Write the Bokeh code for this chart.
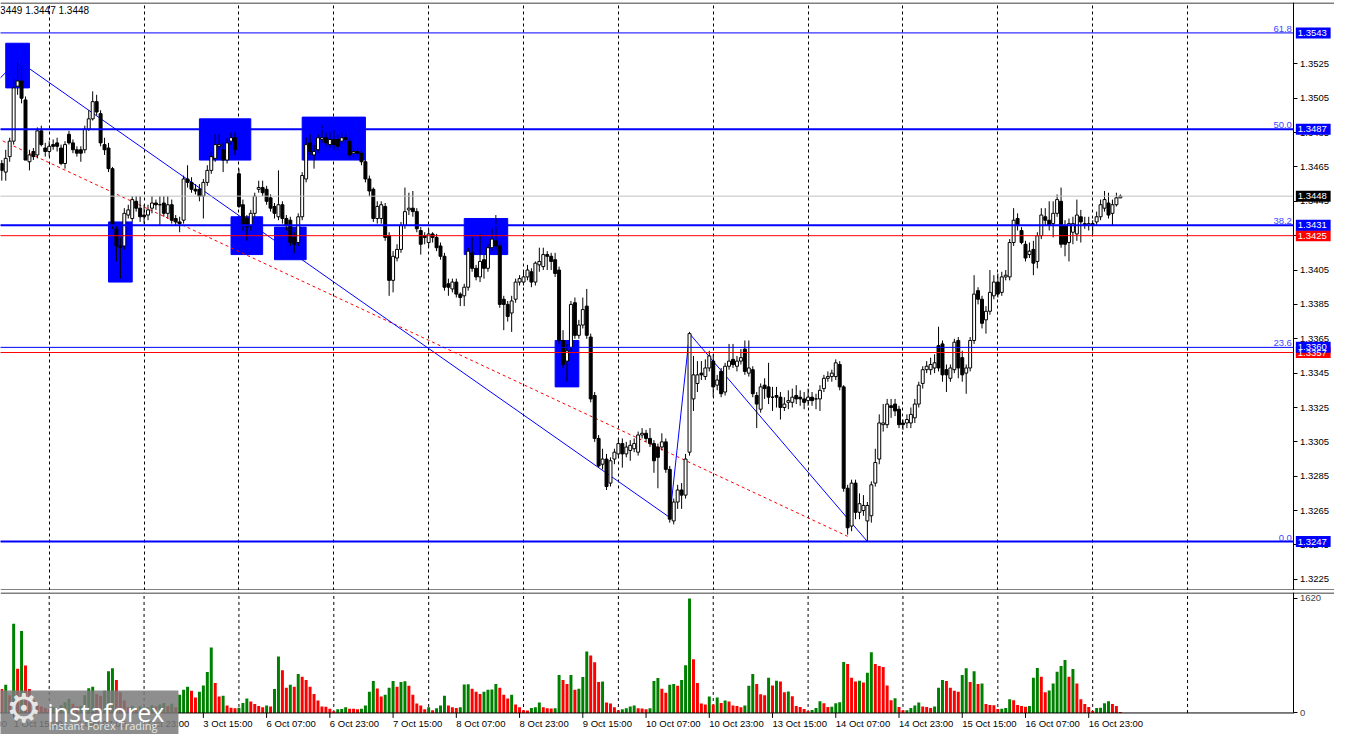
import numpy as np
from bokeh.plotting import figure
from bokeh.models import (Range1d, FixedTicker, PrintfTickFormatter, Span, LinearAxis,
                          Grid, ColumnDataSource)
from bokeh.layouts import column
from bokeh.embed import file_html
from bokeh.resources import INLINE
from bokeh.core.properties import value

# ---------------- data (H1 bars, bar 0 = 2 Oct 00:00) ----------------
FIRST_BAR = -12

open_ = [
    1.3467, 1.3462, 1.3471, 1.3480, 1.3512, 1.3515, 1.3504, 1.3468, 1.3474, 1.3472, 1.3486, 1.3476,
    1.3474, 1.3478, 1.3479, 1.3476, 1.3467, 1.3484, 1.3479, 1.3475, 1.3475, 1.3475, 1.3487, 1.3493,
    1.3503, 1.3496, 1.3478, 1.3476, 1.3464, 1.3429, 1.3419, 1.3419, 1.3437, 1.3435, 1.3445, 1.3441,
    1.3437, 1.3437, 1.3441, 1.3444, 1.3443, 1.3444, 1.3438, 1.3443, 1.3435, 1.3433, 1.3434, 1.3458,
    1.3456, 1.3452, 1.3452, 1.3448, 1.3456, 1.3463, 1.3470, 1.3477, 1.3475, 1.3469, 1.3480, 1.3482,
    1.3461, 1.3443, 1.3435, 1.3431, 1.3438, 1.3452, 1.3453, 1.3452, 1.3447, 1.3442, 1.3436, 1.3443,
    1.3435, 1.3434, 1.3424, 1.3421, 1.3436, 1.3458, 1.3479, 1.3472, 1.3475, 1.3481, 1.3482, 1.3478,
    1.3481, 1.3481, 1.3480, 1.3482, 1.3480, 1.3473, 1.3474, 1.3473, 1.3468, 1.3458, 1.3452, 1.3435,
    1.3435, 1.3442, 1.3425, 1.3399, 1.3412, 1.3417, 1.3431, 1.3440, 1.3441, 1.3439, 1.3428, 1.3425,
    1.3421, 1.3426, 1.3424, 1.3419, 1.3413, 1.3397, 1.3394, 1.3398, 1.3391, 1.3390, 1.3395, 1.3415,
    1.3406, 1.3401, 1.3411, 1.3406, 1.3418, 1.3422, 1.3419, 1.3388, 1.3385, 1.3380, 1.3388, 1.3398,
    1.3398, 1.3401, 1.3404, 1.3398, 1.3408, 1.3407, 1.3414, 1.3413, 1.3411, 1.3405, 1.3364, 1.3352,
    1.3360, 1.3386, 1.3367, 1.3373, 1.3384, 1.3366, 1.3332, 1.3307, 1.3292, 1.3295, 1.3281, 1.3295,
    1.3298, 1.3304, 1.3298, 1.3300, 1.3301, 1.3299, 1.3309, 1.3310, 1.3307, 1.3304, 1.3302, 1.3302,
    1.3305, 1.3289, 1.3259, 1.3270, 1.3277, 1.3274, 1.3299, 1.3330, 1.3339, 1.3345, 1.3343, 1.3348,
    1.3352, 1.3338, 1.3346, 1.3334, 1.3349, 1.3353, 1.3349, 1.3352, 1.3359, 1.3345, 1.3347, 1.3332,
    1.3324, 1.3338, 1.3337, 1.3331, 1.3332, 1.3331, 1.3325, 1.3328, 1.3328, 1.3332, 1.3331, 1.3330,
    1.3329, 1.3331, 1.3330, 1.3330, 1.3336, 1.3342, 1.3343, 1.3343, 1.3350, 1.3337, 1.3278, 1.3256,
    1.3281, 1.3264, 1.3265, 1.3259, 1.3262, 1.3281, 1.3295, 1.3315, 1.3315, 1.3326, 1.3327, 1.3324,
    1.3316, 1.3316, 1.3316, 1.3319, 1.3327, 1.3339, 1.3347, 1.3347, 1.3348, 1.3361, 1.3362, 1.3347,
    1.3342, 1.3347, 1.3364, 1.3354, 1.3345, 1.3348, 1.3364, 1.3393, 1.3388, 1.3376, 1.3381, 1.3390,
    1.3398, 1.3392, 1.3401, 1.3401, 1.3421, 1.3435, 1.3428, 1.3420, 1.3414, 1.3417, 1.3410, 1.3425,
    1.3436, 1.3434, 1.3432, 1.3438, 1.3445, 1.3431, 1.3421, 1.3427, 1.3426, 1.3436, 1.3432, 1.3431,
    1.3432, 1.3433, 1.3436, 1.3441, 1.3444, 1.3438, 1.3443, 1.3447,
]
high = [
    1.3469, 1.3475, 1.3482, 1.3516, 1.3526, 1.3523, 1.3506, 1.3475, 1.3476, 1.3488, 1.3489, 1.3479,
    1.3480, 1.3481, 1.3482, 1.3478, 1.3480, 1.3486, 1.3481, 1.3477, 1.3477, 1.3489, 1.3498, 1.3509,
    1.3507, 1.3498, 1.3482, 1.3479, 1.3465, 1.3431, 1.3424, 1.3441, 1.3443, 1.3448, 1.3448, 1.3448,
    1.3443, 1.3443, 1.3448, 1.3446, 1.3448, 1.3448, 1.3448, 1.3446, 1.3437, 1.3436, 1.3460, 1.3466,
    1.3459, 1.3455, 1.3455, 1.3458, 1.3466, 1.3474, 1.3484, 1.3484, 1.3479, 1.3482, 1.3485, 1.3485,
    1.3464, 1.3446, 1.3437, 1.3440, 1.3450, 1.3457, 1.3457, 1.3454, 1.3449, 1.3444, 1.3463, 1.3445,
    1.3437, 1.3436, 1.3427, 1.3438, 1.3462, 1.3482, 1.3484, 1.3478, 1.3484, 1.3489, 1.3485, 1.3485,
    1.3487, 1.3484, 1.3485, 1.3484, 1.3482, 1.3476, 1.3476, 1.3475, 1.3469, 1.3460, 1.3453, 1.3445,
    1.3445, 1.3444, 1.3427, 1.3416, 1.3420, 1.3433, 1.3453, 1.3450, 1.3451, 1.3441, 1.3430, 1.3427,
    1.3429, 1.3427, 1.3426, 1.3421, 1.3415, 1.3400, 1.3400, 1.3400, 1.3392, 1.3397, 1.3418, 1.3424,
    1.3408, 1.3426, 1.3414, 1.3420, 1.3429, 1.3437, 1.3421, 1.3390, 1.3387, 1.3390, 1.3400, 1.3402,
    1.3405, 1.3408, 1.3406, 1.3410, 1.3418, 1.3418, 1.3416, 1.3415, 1.3415, 1.3407, 1.3370, 1.3362,
    1.3387, 1.3389, 1.3376, 1.3389, 1.3394, 1.3368, 1.3334, 1.3309, 1.3301, 1.3298, 1.3296, 1.3301,
    1.3307, 1.3307, 1.3305, 1.3306, 1.3307, 1.3311, 1.3313, 1.3312, 1.3313, 1.3306, 1.3304, 1.3310,
    1.3307, 1.3291, 1.3272, 1.3280, 1.3281, 1.3298, 1.3369, 1.3355, 1.3352, 1.3352, 1.3353, 1.3358,
    1.3356, 1.3344, 1.3348, 1.3351, 1.3362, 1.3362, 1.3355, 1.3359, 1.3364, 1.3364, 1.3349, 1.3334,
    1.3339, 1.3342, 1.3351, 1.3337, 1.3337, 1.3334, 1.3331, 1.3335, 1.3336, 1.3338, 1.3335, 1.3334,
    1.3336, 1.3334, 1.3333, 1.3338, 1.3344, 1.3346, 1.3347, 1.3353, 1.3352, 1.3338, 1.3280, 1.3283,
    1.3283, 1.3275, 1.3274, 1.3270, 1.3282, 1.3301, 1.3321, 1.3327, 1.3330, 1.3330, 1.3330, 1.3326,
    1.3318, 1.3321, 1.3325, 1.3330, 1.3340, 1.3349, 1.3352, 1.3354, 1.3356, 1.3372, 1.3364, 1.3350,
    1.3350, 1.3365, 1.3366, 1.3358, 1.3350, 1.3366, 1.3402, 1.3395, 1.3390, 1.3384, 1.3405, 1.3402,
    1.3403, 1.3404, 1.3405, 1.3423, 1.3441, 1.3438, 1.3430, 1.3422, 1.3421, 1.3422, 1.3427, 1.3441,
    1.3441, 1.3445, 1.3445, 1.3449, 1.3453, 1.3434, 1.3435, 1.3436, 1.3446, 1.3440, 1.3436, 1.3436,
    1.3434, 1.3439, 1.3446, 1.3451, 1.3450, 1.3446, 1.3450, 1.3449,
]
low = [
    1.3457, 1.3457, 1.3468, 1.3478, 1.3507, 1.3502, 1.3469, 1.3463, 1.3469, 1.3470, 1.3477, 1.3471,
    1.3471, 1.3475, 1.3474, 1.3466, 1.3464, 1.3478, 1.3473, 1.3471, 1.3468, 1.3473, 1.3486, 1.3492,
    1.3495, 1.3477, 1.3472, 1.3462, 1.3429, 1.3410, 1.3400, 1.3417, 1.3435, 1.3433, 1.3439, 1.3433,
    1.3432, 1.3434, 1.3438, 1.3440, 1.3431, 1.3436, 1.3435, 1.3432, 1.3431, 1.3427, 1.3432, 1.3453,
    1.3450, 1.3449, 1.3445, 1.3435, 1.3454, 1.3461, 1.3468, 1.3475, 1.3462, 1.3467, 1.3478, 1.3472,
    1.3441, 1.3428, 1.3422, 1.3428, 1.3436, 1.3450, 1.3448, 1.3443, 1.3439, 1.3435, 1.3434, 1.3432,
    1.3428, 1.3419, 1.3415, 1.3419, 1.3434, 1.3456, 1.3472, 1.3464, 1.3473, 1.3479, 1.3477, 1.3476,
    1.3475, 1.3475, 1.3478, 1.3479, 1.3470, 1.3470, 1.3471, 1.3466, 1.3456, 1.3448, 1.3433, 1.3432,
    1.3432, 1.3422, 1.3390, 1.3392, 1.3410, 1.3415, 1.3429, 1.3437, 1.3436, 1.3427, 1.3414, 1.3420,
    1.3418, 1.3421, 1.3416, 1.3411, 1.3393, 1.3390, 1.3392, 1.3389, 1.3384, 1.3384, 1.3393, 1.3404,
    1.3399, 1.3398, 1.3400, 1.3404, 1.3416, 1.3417, 1.3383, 1.3370, 1.3375, 1.3369, 1.3386, 1.3396,
    1.3396, 1.3399, 1.3395, 1.3396, 1.3404, 1.3405, 1.3405, 1.3405, 1.3401, 1.3362, 1.3348, 1.3340,
    1.3358, 1.3365, 1.3365, 1.3371, 1.3365, 1.3328, 1.3305, 1.3290, 1.3289, 1.3277, 1.3279, 1.3292,
    1.3296, 1.3290, 1.3296, 1.3294, 1.3299, 1.3297, 1.3307, 1.3305, 1.3302, 1.3287, 1.3278, 1.3300,
    1.3287, 1.3258, 1.3257, 1.3266, 1.3266, 1.3272, 1.3297, 1.3323, 1.3334, 1.3341, 1.3341, 1.3346,
    1.3331, 1.3335, 1.3331, 1.3332, 1.3347, 1.3348, 1.3346, 1.3350, 1.3344, 1.3343, 1.3331, 1.3313,
    1.3322, 1.3330, 1.3327, 1.3323, 1.3325, 1.3318, 1.3323, 1.3324, 1.3325, 1.3327, 1.3326, 1.3324,
    1.3326, 1.3326, 1.3324, 1.3323, 1.3334, 1.3340, 1.3340, 1.3341, 1.3335, 1.3276, 1.3251, 1.3253,
    1.3260, 1.3260, 1.3262, 1.3247, 1.3258, 1.3279, 1.3292, 1.3311, 1.3313, 1.3319, 1.3320, 1.3313,
    1.3312, 1.3313, 1.3313, 1.3316, 1.3325, 1.3336, 1.3345, 1.3344, 1.3345, 1.3346, 1.3340, 1.3334,
    1.3340, 1.3345, 1.3342, 1.3340, 1.3333, 1.3346, 1.3362, 1.3385, 1.3371, 1.3368, 1.3379, 1.3388,
    1.3389, 1.3390, 1.3399, 1.3399, 1.3419, 1.3428, 1.3420, 1.3410, 1.3412, 1.3402, 1.3406, 1.3423,
    1.3431, 1.3428, 1.3424, 1.3436, 1.3418, 1.3413, 1.3410, 1.3420, 1.3422, 1.3421, 1.3429, 1.3428,
    1.3426, 1.3431, 1.3434, 1.3439, 1.3435, 1.3431, 1.3442, 1.3447,
]
close = [
    1.3463, 1.3470, 1.3480, 1.3511, 1.3515, 1.3505, 1.3469, 1.3472, 1.3471, 1.3486, 1.3478, 1.3474,
    1.3477, 1.3477, 1.3477, 1.3467, 1.3478, 1.3479, 1.3475, 1.3473, 1.3473, 1.3487, 1.3493, 1.3503,
    1.3497, 1.3479, 1.3475, 1.3464, 1.3431, 1.3419, 1.3418, 1.3438, 1.3440, 1.3446, 1.3441, 1.3436,
    1.3436, 1.3440, 1.3444, 1.3443, 1.3443, 1.3438, 1.3443, 1.3434, 1.3433, 1.3432, 1.3458, 1.3456,
    1.3452, 1.3451, 1.3448, 1.3456, 1.3463, 1.3471, 1.3478, 1.3478, 1.3469, 1.3479, 1.3482, 1.3475,
    1.3442, 1.3431, 1.3430, 1.3438, 1.3448, 1.3453, 1.3450, 1.3445, 1.3441, 1.3438, 1.3443, 1.3435,
    1.3431, 1.3421, 1.3420, 1.3436, 1.3460, 1.3478, 1.3474, 1.3474, 1.3482, 1.3482, 1.3479, 1.3481,
    1.3478, 1.3477, 1.3482, 1.3481, 1.3472, 1.3474, 1.3473, 1.3468, 1.3458, 1.3451, 1.3435, 1.3442,
    1.3443, 1.3424, 1.3399, 1.3413, 1.3417, 1.3431, 1.3439, 1.3441, 1.3439, 1.3429, 1.3420, 1.3424,
    1.3426, 1.3424, 1.3418, 1.3413, 1.3395, 1.3395, 1.3398, 1.3391, 1.3389, 1.3395, 1.3416, 1.3406,
    1.3401, 1.3410, 1.3406, 1.3418, 1.3423, 1.3419, 1.3385, 1.3385, 1.3378, 1.3387, 1.3398, 1.3400,
    1.3401, 1.3405, 1.3398, 1.3409, 1.3410, 1.3414, 1.3413, 1.3410, 1.3403, 1.3364, 1.3350, 1.3358,
    1.3385, 1.3367, 1.3373, 1.3382, 1.3367, 1.3330, 1.3307, 1.3291, 1.3295, 1.3279, 1.3294, 1.3299,
    1.3304, 1.3298, 1.3302, 1.3303, 1.3304, 1.3309, 1.3310, 1.3307, 1.3304, 1.3294, 1.3296, 1.3305,
    1.3289, 1.3260, 1.3270, 1.3277, 1.3274, 1.3295, 1.3368, 1.3344, 1.3344, 1.3344, 1.3348, 1.3355,
    1.3337, 1.3341, 1.3333, 1.3349, 1.3352, 1.3350, 1.3352, 1.3354, 1.3346, 1.3348, 1.3333, 1.3327,
    1.3337, 1.3336, 1.3331, 1.3331, 1.3331, 1.3325, 1.3327, 1.3329, 1.3331, 1.3330, 1.3330, 1.3328,
    1.3331, 1.3329, 1.3330, 1.3335, 1.3342, 1.3343, 1.3345, 1.3351, 1.3337, 1.3278, 1.3255, 1.3281,
    1.3264, 1.3269, 1.3268, 1.3268, 1.3280, 1.3293, 1.3316, 1.3316, 1.3327, 1.3325, 1.3323, 1.3315,
    1.3315, 1.3318, 1.3321, 1.3327, 1.3338, 1.3347, 1.3349, 1.3350, 1.3351, 1.3348, 1.3344, 1.3344,
    1.3348, 1.3363, 1.3348, 1.3344, 1.3348, 1.3364, 1.3391, 1.3388, 1.3374, 1.3381, 1.3392, 1.3398,
    1.3391, 1.3401, 1.3402, 1.3421, 1.3434, 1.3431, 1.3421, 1.3412, 1.3416, 1.3409, 1.3425, 1.3437,
    1.3434, 1.3431, 1.3438, 1.3446, 1.3420, 1.3420, 1.3432, 1.3432, 1.3437, 1.3433, 1.3431, 1.3432,
    1.3431, 1.3436, 1.3443, 1.3446, 1.3437, 1.3443, 1.3447, 1.3448,
]
volume = [
    337, 397, 250, 1261, 624, 1160, 670, 337, 180, 120, 90, 70,
    60, 80, 70, 110, 150, 200, 130, 90, 100, 250, 351, 370,
    268, 245, 314, 591, 633, 467, 291, 175, 83, 100, 70, 95,
    60, 80, 110, 90, 120, 140, 100, 130, 80, 259, 328, 370,
    314, 217, 300, 388, 578, 924, 425, 231, 245, 106, 74, 65,
    74, 139, 203, 162, 125, 97, 79, 106, 92, 337, 799, 605,
    356, 397, 370, 550, 513, 467, 370, 268, 176, 92, 88, 60,
    23, 51, 55, 79, 60, 58, 51, 60, 106, 300, 453, 346,
    231, 259, 356, 453, 370, 439, 448, 383, 259, 134, 106, 51,
    79, 37, 65, 106, 245, 106, 79, 69, 79, 402, 407, 342,
    300, 268, 300, 328, 330, 411, 356, 259, 203, 259, 120, 79,
    37, 35, 69, 79, 148, 79, 65, 62, 66, 536, 467, 411,
    536, 328, 342, 508, 869, 813, 716, 439, 445, 148, 134, 79,
    37, 51, 65, 92, 106, 65, 62, 51, 65, 453, 494, 342,
    286, 397, 411, 383, 467, 675, 1617, 758, 425, 134, 120, 231,
    120, 217, 139, 176, 162, 106, 100, 79, 106, 383, 550, 411,
    263, 249, 498, 388, 457, 443, 291, 305, 235, 97, 83, 55,
    28, 42, 69, 166, 138, 83, 88, 138, 152, 720, 692, 498,
    443, 457, 429, 568, 858, 692, 665, 651, 388, 180, 208, 83,
    37, 40, 69, 106, 148, 92, 83, 69, 92, 356, 467, 453,
    356, 314, 300, 536, 633, 439, 591, 411, 415, 125, 111, 108,
    55, 58, 69, 194, 180, 111, 97, 88, 97, 498, 637, 512,
    291, 318, 415, 581, 665, 748, 512, 623, 415, 194, 125, 83,
    28, 69, 72, 138, 166, 125, 97, 14,
]

day_start_bars = [0, 24, 48, 72, 96, 120, 144, 168, 192, 216, 240, 264, 288]
time_label_bars = [-25, -9, 7, 23, 39, 55, 71, 87, 103, 119, 135, 151, 167, 183, 199, 215, 231, 247, 263]
time_labels = ["30 Sep 23:00", "1 Oct 15:00", "2 Oct 07:00", "2 Oct 23:00", "3 Oct 15:00",
               "6 Oct 07:00", "6 Oct 23:00", "7 Oct 15:00", "8 Oct 07:00", "8 Oct 23:00",
               "9 Oct 15:00", "10 Oct 07:00", "10 Oct 23:00", "13 Oct 15:00", "14 Oct 07:00",
               "14 Oct 23:00", "15 Oct 15:00", "16 Oct 07:00", "16 Oct 23:00"]

price_ticks = [1.3225, 1.3245, 1.3265, 1.3285, 1.3305, 1.3325, 1.3345, 1.3365,
               1.3385, 1.3405, 1.3425, 1.3445, 1.3465, 1.3485, 1.3505, 1.3525]
volume_ticks = [0, 1620]

fib_levels = [1.3543, 1.3487, 1.3431, 1.3360, 1.3247]
fib_names = ["61.8", "50.0", "38.2", "23.6", "0.0"]
fib_widths = [1, 2, 2, 1, 2]
red_levels = [1.3425, 1.3357]
last_price = 1.3448
header_text = "3449 1.3447 1.3448"

# price tags on the scale (drawn in this order)
tag_levels = [1.3357, 1.3360, 1.3425, 1.3431, 1.3487, 1.3543, 1.3247, 1.3448]
tag_colors = ["#FF0000", "#0000FF", "#FF0000", "#0000FF", "#0000FF", "#0000FF", "#0000FF", "black"]

zone_left = [-11, 15, 38, 46, 57, 64, 105, 128]
zone_right = [-5, 21, 51, 54, 65, 80, 116, 134]
zone_top = [1.3537, 1.3433, 1.3493, 1.3436, 1.3430, 1.3494, 1.3435, 1.3364]
zone_bottom = [1.3511, 1.3398, 1.3469, 1.3414, 1.3411, 1.3469, 1.3414, 1.3337]

zigzag_bars = [-20, -8, 157, 162, 207]
zigzag_prices = [1.3499, 1.3527, 1.3261, 1.3368, 1.3247]
trend_bars = [-20, 202]
trend_prices = [1.3489, 1.3250]

# ---------------- layout constants ----------------
W = 1334
FONT = "Liberation Sans"
FS = "9.5px"
BLUE = "#0000FF"
RED = "#FF0000"
SCALE_X = 314.93          # bar position of the price scale line
X_LEFT, X_RIGHT = -12.325, 325.18

bars = np.arange(FIRST_BAR, FIRST_BAR + len(open_))
xr = Range1d(X_LEFT, X_RIGHT)

# ---------------- main price panel ----------------
Y0, Y1 = 1.32185, 1.35607
p = figure(frame_width=W, frame_height=588, x_range=xr, y_range=Range1d(Y0, Y1),
           output_backend="svg", toolbar_location=None, x_axis_location=None,
           y_axis_location=None, min_border_left=0, min_border_top=2,
           min_border_bottom=0, min_border_right=0,
           background_fill_color="white", border_fill_color="white",
           outline_line_color=None)
p.grid.visible = False
p.add_layout(Grid(dimension=0, ticker=FixedTicker(ticks=day_start_bars),
                  grid_line_color="black", grid_line_dash="3 3", grid_line_width=1))

ax = LinearAxis(fixed_location=SCALE_X, ticker=FixedTicker(ticks=price_ticks),
                formatter=PrintfTickFormatter(format="%.4f"))
ax.major_label_text_font = FONT
ax.major_label_text_font_size = FS
ax.major_label_text_color = "black"
ax.major_tick_out = 4
ax.major_tick_in = 0
ax.minor_tick_out = 0
ax.minor_tick_in = 0
ax.major_label_standoff = 2
ax.axis_line_color = "black"
p.add_layout(ax, "right")

# frame top / bottom lines
px = (Y1 - Y0) / 588.0
p.add_layout(Span(location=Y1 - 0.5 * px, dimension="width", line_color="black", line_width=1))
p.add_layout(Span(location=Y0 + 0.5 * px, dimension="width", line_color="black", line_width=1))

# zones (drawn behind candles)
p.quad(left=zone_left, right=zone_right, top=zone_top, bottom=zone_bottom,
       fill_color=BLUE, line_color=BLUE)

# trend lines
p.line(trend_bars, trend_prices, line_color=RED, line_width=1, line_dash="3 3")
p.line(zigzag_bars, zigzag_prices, line_color=BLUE, line_width=1)

# candles
o = np.array(open_); c = np.array(close)
src = ColumnDataSource(dict(
    x=bars, h=high, l=low,
    top=np.maximum(o, c), bottom=np.minimum(o, c),
    fill=["white" if cc >= oo else "black" for oo, cc in zip(open_, close)],
))
p.segment(x0="x", y0="h", x1="x", y1="l", source=src, line_color="black", line_width=1)
p.vbar(x="x", width=0.75, top="top", bottom="bottom", fill_color="fill",
       line_color="black", line_width=1, source=src)

# horizontal levels (stop at the price scale)
def hline(level, color, width):
    p.segment(x0=[X_LEFT - 1], y0=[level], x1=[SCALE_X], y1=[level],
              line_color=color, line_width=width)

hline(last_price, "#C0C0C0", 1)
for lv in red_levels:
    hline(lv, RED, 1)
for lv, w in zip(fib_levels, fib_widths):
    hline(lv, BLUE, w)

p.text(x=[314.4] * len(fib_levels), y=fib_levels, text=fib_names, text_align="right",
       text_baseline="bottom", y_offset=-1, text_color="#4646FF",
       text_font=value(FONT), text_font_size=FS)

p.text(x=[X_LEFT - 0.1], y=[1.35561], text=[header_text], text_align="left",
       text_baseline="middle", text_color="black", text_font=value(FONT),
       text_font_size="10px")

# price tags over the scale
tag_h = 11 * px
p.rect(x=[319.8] * len(tag_levels), y=tag_levels, width=8.8, height=tag_h,
       fill_color=tag_colors, line_color=None, level="overlay")
p.text(x=[315.9] * len(tag_levels), y=tag_levels, text=["%.4f" % t for t in tag_levels],
       text_align="left", text_baseline="middle", text_color="white",
       text_font=value(FONT), text_font_size=FS, level="overlay")

# ---------------- volume panel ----------------
VTOP = 1703
VBOT = -304.6
pv = figure(frame_width=W, frame_height=142, x_range=xr, y_range=Range1d(VBOT, VTOP),
            output_backend="svg", toolbar_location=None, x_axis_location=None,
            y_axis_location=None, min_border_left=0, min_border_top=2,
            min_border_bottom=0, min_border_right=0,
            background_fill_color="white", border_fill_color="white",
            outline_line_color=None)
pv.grid.visible = False
vax = LinearAxis(fixed_location=SCALE_X, ticker=FixedTicker(ticks=volume_ticks), bounds=(0, VTOP))
vax.major_label_text_font = FONT
vax.major_label_text_font_size = FS
vax.major_tick_out = 4
vax.major_tick_in = 0
vax.minor_tick_out = 0
vax.minor_tick_in = 0
vax.major_label_standoff = 2
vax.axis_line_color = "black"
pv.add_layout(vax, "right")

pv.segment(x0=day_start_bars, y0=[0] * len(day_start_bars), x1=day_start_bars,
           y1=[VTOP] * len(day_start_bars), line_color="black", line_dash="3 3", line_width=1)

vcolors = []
prev = None
for v in volume:
    vcolors.append("#008000" if (prev is not None and v > prev) else RED)
    prev = v
pv.vbar(x=bars, width=0.75, top=volume, bottom=0, fill_color=vcolors, line_color=None)

vpx = (VTOP - VBOT) / 142.0
pv.segment(x0=[X_LEFT - 1], y0=[0], x1=[SCALE_X], y1=[0], line_color="black", line_width=1)
pv.add_layout(Span(location=VTOP - 0.5 * vpx, dimension="width", line_color="black", line_width=1))

# time scale
pv.segment(x0=time_label_bars, y0=[0] * len(time_label_bars), x1=time_label_bars,
           y1=[-70] * len(time_label_bars), line_color="black", line_width=1)
pv.text(x=time_label_bars, y=[-150] * len(time_label_bars), text=time_labels,
        text_align="left", text_baseline="middle", text_color="black",
        text_font=value(FONT), text_font_size=FS)

# watermark logo
pv.quad(left=[X_LEFT - 0.2], right=[32.7], top=[318], bottom=[VBOT - 10],
        fill_color="#7a7a7a", fill_alpha=0.85, line_color=None)
pv.text(x=[-6.4], y=[70], text=["\u2699"], text_align="center", text_baseline="middle",
        text_color="#e6e6e6", text_font=value("DejaVu Sans"), text_font_size="40px")
pv.text(x=[-0.5], y=[20], text=["instaforex"], text_align="left", text_baseline="alphabetic",
        text_color="white", text_font=value("Open Sans"), text_font_size="25px")
pv.text(x=[-0.2], y=[-180], text=["Instant Forex Trading"], text_align="left",
        text_baseline="middle", text_color="#e8e8e8", text_font=value("Open Sans"),
        text_font_size="11px")

layout = column(p, pv, spacing=0)
open("out.html", "w").write(file_html(layout, INLINE))
